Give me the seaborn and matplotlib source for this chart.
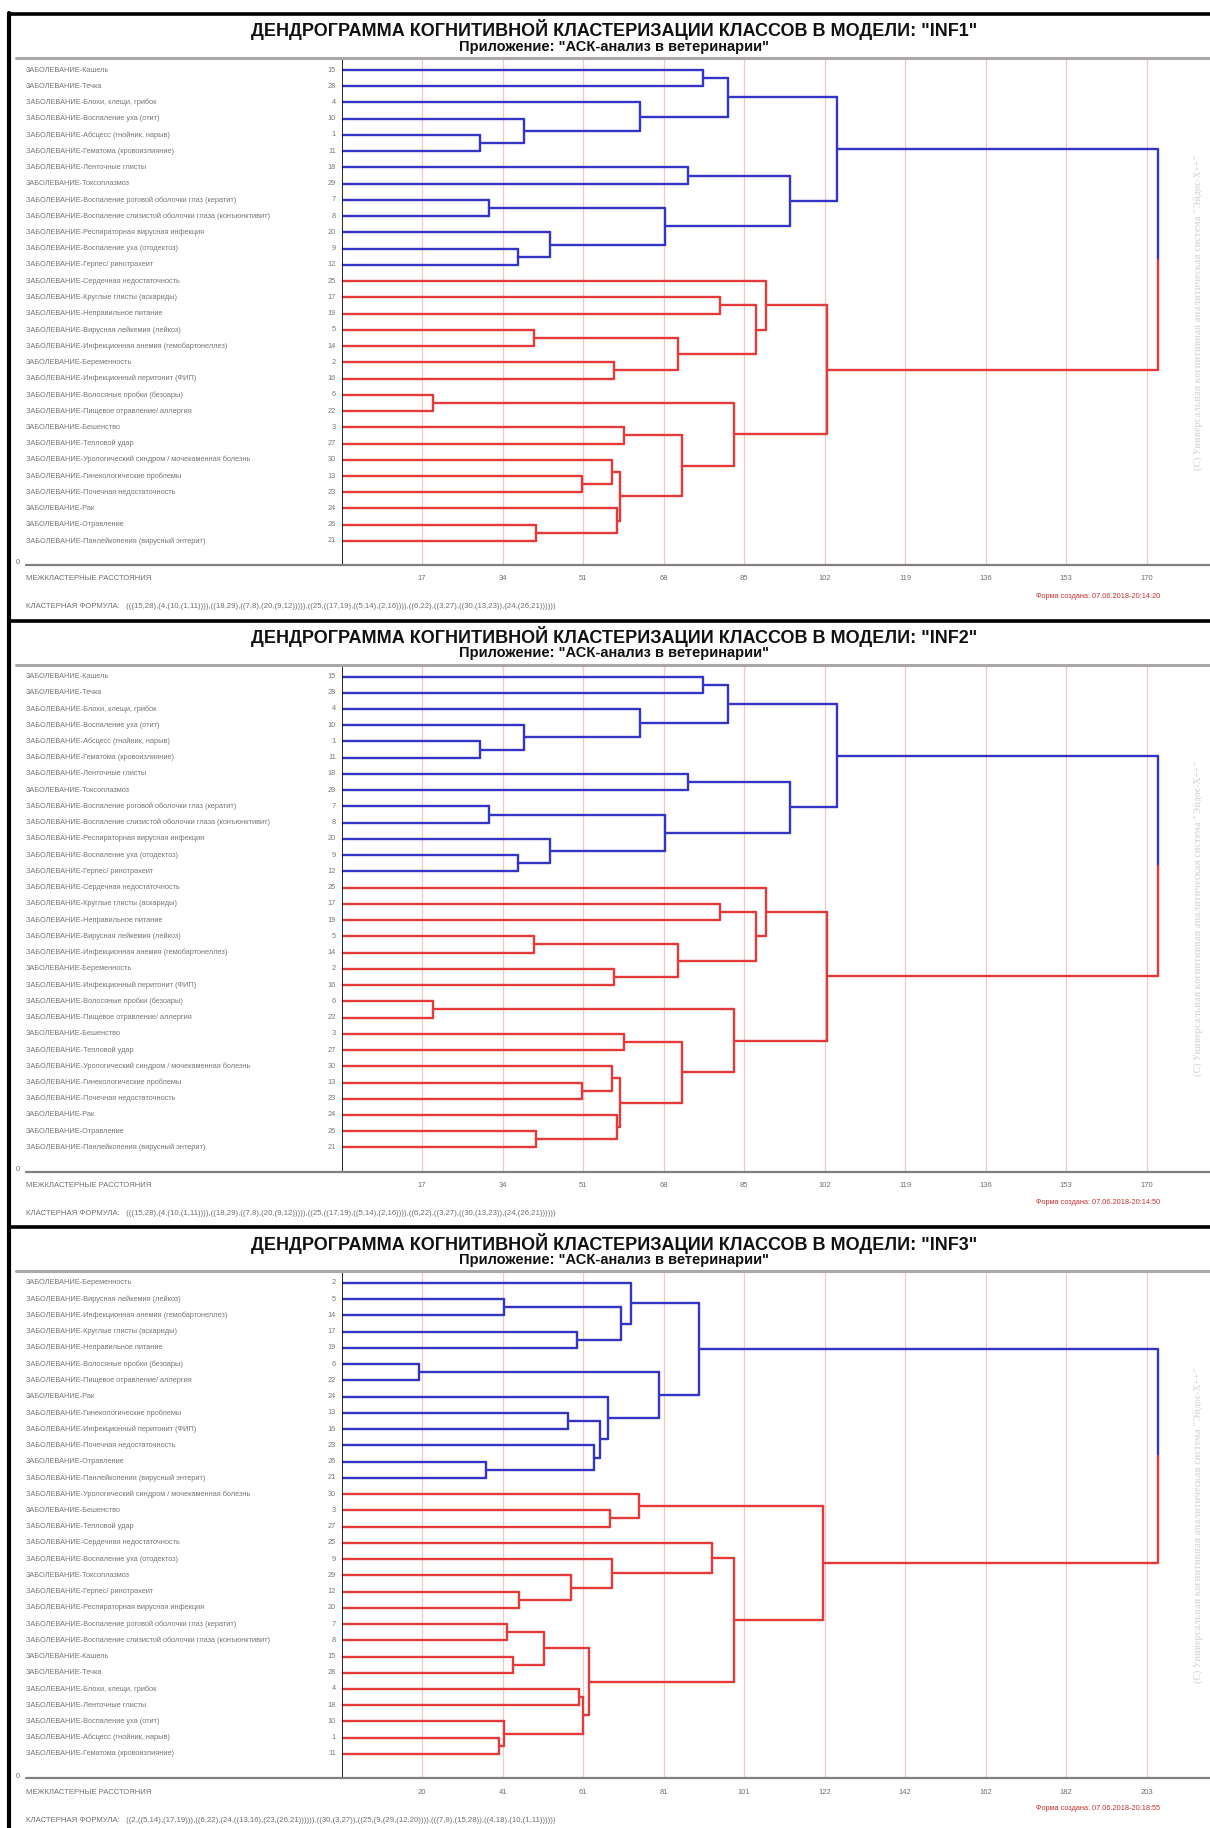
import numpy as np
import pandas as pd
import seaborn as sns
import matplotlib
matplotlib.use("Agg")
import matplotlib.pyplot as plt
from matplotlib.lines import Line2D
import matplotlib.transforms as mtransforms

# class names (number -> name)
class_names = {
    1: "Абсцесс (гнойник, нарыв)",
    2: "Беременность",
    3: "Бешенство",
    4: "Блохи, клещи, грибок",
    5: "Вирусная лейкемия (лейкоз)",
    6: "Волосяные пробки (безоары)",
    7: "Воспаление роговой оболочки глаз (кератит)",
    8: "Воспаление слизистой оболочки глаза (конъюнктивит)",
    9: "Воспаление уха (отодектоз)",
    10: "Воспаление уха (отит)",
    11: "Гематома (кровоизлияние)",
    12: "Герпес/ ринотрахеит",
    13: "Гинекологические проблемы",
    14: "Инфекционная анемия (гемобартонеллез)",
    15: "Кашель",
    16: "Инфекционный перитонит (ФИП)",
    17: "Круглые глисты (аскариды)",
    18: "Ленточные глисты",
    19: "Неправильное питание",
    20: "Респираторная вирусная инфекция",
    21: "Панлейкопения (вирусный энтерит)",
    22: "Пищевое отравление/ аллергия",
    23: "Почечная недостаточность",
    24: "Рак",
    25: "Сердечная недостаточность",
    26: "Отравление",
    27: "Тепловой удар",
    28: "Течка",
    29: "Токсоплазмоз",
    30: "Урологический синдром / мочекаменная болезнь",
}

# merges: (child a, child b, distance); ints = classes, "mN" = earlier merge N
merges_inf1 = [
    (15, 28, 76.2), (1, 11, 29.2), (10, "m1", 38.4), (4, "m2", 63.0),
    ("m0", "m3", 81.5), (18, 29, 73.2), (7, 8, 31.2), (9, 12, 37.2),
    (20, "m7", 44.0), ("m6", "m8", 68.3), ("m5", "m9", 94.7), ("m4", "m10", 104.5),
    (17, 19, 79.9), (5, 14, 40.6), (2, 16, 57.5), ("m13", "m14", 71.0),
    ("m12", "m15", 87.5), (25, "m16", 89.7), (6, 22, 19.3), (3, 27, 59.6),
    (13, 23, 50.7), (30, "m20", 57.0), (26, 21, 41.0), (24, "m22", 58.1),
    ("m21", "m23", 58.8), ("m19", "m24", 71.9), ("m18", "m25", 82.8),
    ("m17", "m26", 102.4), ("m11", "m27", 172.3),
]
merges_inf2 = list(merges_inf1)
merges_inf3 = [
    (5, 14, 40.8), (17, 19, 59.1), ("m0", "m1", 70.2), (2, "m2", 72.9),
    (6, 22, 19.4), (13, 16, 57.0), (26, 21, 36.4), (23, "m6", 63.5),
    ("m5", "m7", 64.9), (24, "m8", 67.0), ("m4", "m9", 79.9), ("m3", "m10", 89.9),
    (3, 27, 67.5), (30, "m12", 74.9),
    (12, 20, 44.6), (29, "m14", 57.6), (9, "m15", 68.1), (25, "m16", 93.1),
    (7, 8, 41.7), (15, 28, 43.2), ("m18", "m19", 50.8), (4, 18, 59.6),
    (1, 11, 39.7), (10, "m22", 40.8), ("m21", "m23", 60.8), ("m20", "m24", 62.3),
    ("m17", "m25", 98.8), ("m13", "m26", 121.1), ("m11", "m27", 205.4),
]

models = ["INF1", "INF2", "INF3"]
tick_max = [170.0, 170.0, 202.6]
tick_labels = [
    ["17", "34", "51", "68", "85", "102", "119", "136", "153", "170"],
    ["17", "34", "51", "68", "85", "102", "119", "136", "153", "170"],
    ["20", "41", "61", "81", "101", "122", "142", "162", "182", "203"],
]
stamps = ["07.06.2018-20:14:20", "07.06.2018-20:14:50", "07.06.2018-20:18:55"]
all_merges = [merges_inf1, merges_inf2, merges_inf3]

BLUE = "#3434c8"
RED = "#e63a3a"

sns.set_theme(style="white")
plt.rcParams["font.family"] = ["Liberation Sans", "DejaVu Sans"]

W, H = 1210, 1828
fig = plt.figure(figsize=(W / 100, H / 100), dpi=100)


def fx(px):
    return px / W


def fy(py):
    return 1 - py / H


def hline(x0, x1, y, **kw):
    fig.add_artist(Line2D([fx(x0), fx(x1)], [fy(y), fy(y)], transform=fig.transFigure, **kw))


def vline(x, y0, y1, **kw):
    fig.add_artist(Line2D([fx(x), fx(x)], [fy(y0), fy(y1)], transform=fig.transFigure, **kw))


def build(merges):
    nodes = {f"m{i}": m for i, m in enumerate(merges)}
    root = f"m{len(merges) - 1}"
    order = []

    def walk(n):
        if isinstance(n, int):
            order.append(n)
            return
        a, b, _ = nodes[n]
        walk(a)
        walk(b)

    walk(root)
    row = {leaf: i for i, leaf in enumerate(order)}

    def coord(n):
        if isinstance(n, int):
            return 0.0, float(row[n])
        a, b, h = nodes[n]
        return h, (coord(a)[1] + coord(b)[1]) / 2

    def members(n):
        if isinstance(n, int):
            return {n}
        a, b, _ = nodes[n]
        return members(a) | members(b)

    blue_set = members(nodes[root][0])
    recs = []
    sid = 0
    for name, (a, b, h) in nodes.items():
        xa, ya = coord(a)
        xb, yb = coord(b)
        if name == root:
            ym = (ya + yb) / 2
            segs = [((xa, ya), (h, ya), "b"), ((h, ya), (h, ym), "b"),
                    ((h, ym), (h, yb), "r"), ((xb, yb), (h, yb), "r")]
        else:
            c = "b" if members(a) <= blue_set else "r"
            segs = [((xa, ya), (h, ya), c), ((h, ya), (h, yb), c), ((xb, yb), (h, yb), c)]
        for p0, p1, c in segs:
            recs.append((sid, p0[0], p0[1], c))
            recs.append((sid, p1[0], p1[1], c))
            sid += 1
    df = pd.DataFrame(recs, columns=["seg", "x", "y", "clr"])
    return order, df


def fmt(n, nodes):
    if isinstance(n, int):
        return str(n)
    a, b, _ = nodes[n]
    return "(" + fmt(a, nodes) + "," + fmt(b, nodes) + ")"


# geometry of one panel (pixels, first panel)
AX_L, AX_R = 341.7, 1195.0
GRID_PX = 80.5
TOP_LINE, ROW0, ROW_STEP, AX_LINE = 58.0, 70.0, 16.24, 565.0
offsets = [0.0, 606.5, 1213.0]

for p, model in enumerate(models):
    off = offsets[p]
    merges = all_merges[p]
    order, df = build(merges)
    step = tick_max[p] / 10
    xmax = step * (AX_R - AX_L) / GRID_PX
    ytop = -(ROW0 - TOP_LINE) / ROW_STEP
    ybot = 29 + (AX_LINE - (ROW0 + 29 * ROW_STEP)) / ROW_STEP

    ax = fig.add_axes([fx(AX_L), fy(AX_LINE + off), fx(AX_R) - fx(AX_L),
                       fy(TOP_LINE + off) - fy(AX_LINE + off)])
    ticks = [step * k for k in range(1, 11)]
    ax.vlines(ticks, ytop, ybot, color="#f4c6c6", lw=0.9, zorder=0)
    ax.axvline(0, color="black", lw=1.2, zorder=3)
    sns.lineplot(data=df, x="x", y="y", units="seg", estimator=None, hue="clr",
                 palette={"b": BLUE, "r": RED}, sort=False, legend=False,
                 linewidth=1.7, ax=ax, zorder=2)
    ax.set_xlim(0, xmax)
    ax.set_ylim(ybot, ytop)
    ax.set_xlabel("")
    ax.set_ylabel("")
    ax.set_xticks([])
    ax.set_yticks([])
    for s in ax.spines.values():
        s.set_visible(False)

    tr = mtransforms.blended_transform_factory(fig.transFigure, ax.transData)
    for i, leaf in enumerate(order):
        ax.text(fx(26), i, "ЗАБОЛЕВАНИЕ-" + class_names[leaf], transform=tr,
                ha="left", va="center", fontsize=5.3, color="#777777", clip_on=False)
        ax.text(fx(336), i, str(leaf), transform=tr, ha="right", va="center",
                fontsize=5.3, color="#777777", clip_on=False)

    # frame lines and axis
    hline(16, W, TOP_LINE + off, color="#a8a8a8", lw=2.2)
    hline(26, W, AX_LINE + off, color="#808080", lw=1.6)
    fig.text(fx(16), fy(AX_LINE - 2 + off), "0", fontsize=5.5, color="#707070",
             ha="left", va="center")
    for t, lab in zip(ticks, tick_labels[p]):
        fig.text(fx(AX_L + t / step * GRID_PX), fy(579 + off), lab, fontsize=5.5,
                 color="#707070", ha="center", va="center")
    fig.text(fx(26), fy(579 + off), "МЕЖКЛАСТЕРНЫЕ РАССТОЯНИЯ", fontsize=5.5,
             color="#707070", ha="left", va="center")
    fig.text(fx(1098), fy(596 + off), "Форма создана: " + stamps[p], fontsize=5.3,
             color="#c83232", ha="center", va="center")
    nodes = {f"m{i}": m for i, m in enumerate(merges)}
    formula = fmt(f"m{len(merges) - 1}", nodes)[1:-1]
    fig.text(fx(26), fy(607 + off), "КЛАСТЕРНАЯ ФОРМУЛА:   " + formula, fontsize=5.6,
             color="#707070", ha="left", va="center")

    fig.text(fx(614), fy(30 + off),
             'ДЕНДРОГРАММА КОГНИТИВНОЙ КЛАСТЕРИЗАЦИИ КЛАССОВ В МОДЕЛИ: "' + model + '"',
             fontsize=13, fontweight="bold", ha="center", va="center", color="#111111")
    fig.text(fx(614), fy(47 + off), 'Приложение: "АСК-анализ в ветеринарии"',
             fontsize=10.5, fontweight="bold", ha="center", va="center", color="#111111")
    fig.text(fx(1198), fy(312 + off),
             '(С) Универсальная когнитивная аналитическая система "Эйдос-Х++"',
             rotation=90, fontsize=7, fontweight="bold", color="#dddddd",
             ha="center", va="center", family=["Liberation Serif", "DejaVu Serif"])

    hline(9, W, 14 + off, color="black", lw=2.6)

vline(9, 13, H, color="black", lw=3)

fig.savefig("out.png", dpi=100)
